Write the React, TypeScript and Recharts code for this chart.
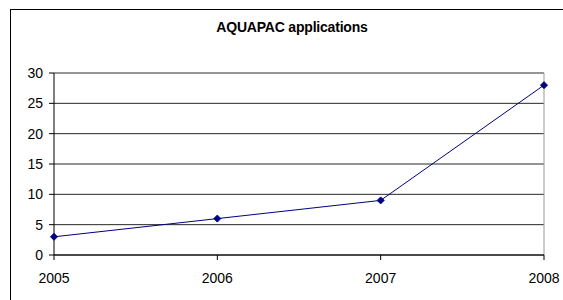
import React from "react";
import {
  LineChart,
  Line,
  XAxis,
  YAxis,
  CartesianGrid,
  ReferenceLine,
} from "recharts";

const years = [2005, 2006, 2007, 2008];
const applications = [3, 6, 9, 28];
const yTicks = [0, 5, 10, 15, 20, 25, 30];

const data = years.map((year, i) => ({ year, value: applications[i] }));

const font = "'Liberation Sans', Arial, sans-serif";

// marcador en forma de rombo
function Diamond(props: any) {
  const { cx, cy } = props;
  if (cx == null || cy == null) return null;
  const r = 3.5;
  return (
    <polygon
      points={`${cx},${cy - r} ${cx + r},${cy} ${cx},${cy + r} ${cx - r},${cy}`}
      fill="#000080"
      stroke="#000080"
    />
  );
}

export default function App() {
  return (
    <div
      style={{
        position: "absolute",
        left: 0,
        top: 0,
        width: 563,
        height: 300,
        overflow: "hidden",
        background: "#fff",
        fontFamily: font,
      }}
    >
      <div
        style={{
          position: "absolute",
          left: 10,
          top: 9,
          width: 600,
          height: 400,
          borderTop: "1px solid #000",
          borderLeft: "1px solid #000",
        }}
      />
      <div
        style={{
          position: "absolute",
          left: 0,
          width: 563,
          top: 19,
          textAlign: "center",
          fontWeight: "bold",
          fontSize: 14,
          letterSpacing: -0.2,
          color: "#000",
          paddingLeft: 21,
          boxSizing: "border-box",
        }}
      >
        AQUAPAC applications
      </div>
      <LineChart
        width={563}
        height={300}
        data={data}
        margin={{ top: 73, right: 19, bottom: 5, left: 4 }}
        style={{ position: "absolute", left: 0, top: 0 }}
      >
        <CartesianGrid vertical={false} stroke="#000" strokeOpacity={0.85} />
        <XAxis
          dataKey="year"
          type="number"
          domain={[2005, 2008]}
          ticks={years}
          tick={{ fill: "#000", fontSize: 14, fontFamily: font }}
          axisLine={{ stroke: "#000" }}
          tickLine={{ stroke: "#000" }}
          tickSize={5}
          tickMargin={13}
          height={40}
          interval={0}
        />
        <YAxis
          domain={[0, 30]}
          ticks={yTicks}
          tick={{ fill: "#000", fontSize: 14, fontFamily: font }}
          axisLine={{ stroke: "#000" }}
          tickLine={{ stroke: "#000" }}
          tickSize={5}
          tickMargin={6}
          width={50}
          interval={0}
        />
        <ReferenceLine y={30} stroke="#999" />
        <ReferenceLine x={2008} stroke="#999" />
        <Line
          dataKey="value"
          stroke="#000080"
          strokeWidth={1}
          dot={<Diamond />}
          activeDot={false}
          isAnimationActive={false}
        />
      </LineChart>
    </div>
  );
}
